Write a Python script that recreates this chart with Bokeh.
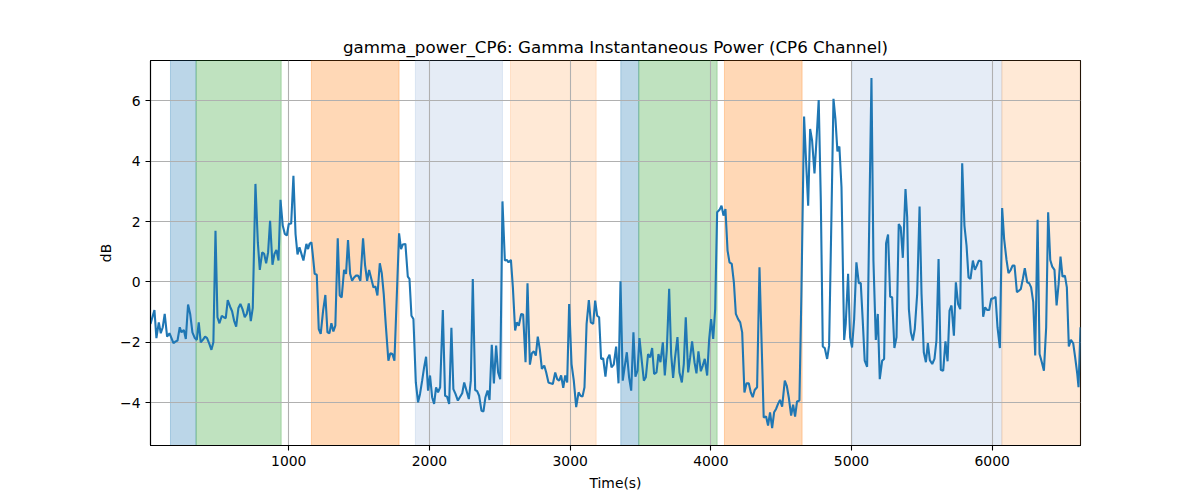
from bokeh.plotting import figure
from bokeh.models import Range1d, FixedTicker, BoxAnnotation
from bokeh.embed import file_html
from bokeh.resources import INLINE

TITLE = "gamma_power_CP6: Gamma Instantaneous Power (CP6 Channel)"
X_LABEL = "Time(s)"
Y_LABEL = "dB"

time_s = [
    17, 45, 59, 76, 90, 104, 118, 135, 152, 166, 180, 194, 209, 225, 237, 254, 268, 284, 299, 315,
    332, 346, 360, 374, 389, 405, 419, 436, 450, 464, 479, 493, 507, 524, 538, 552, 566, 583, 597, 611,
    626, 642, 656, 671, 687, 701, 716, 730, 744, 763, 780, 794, 811, 825, 839, 853, 867, 884, 898, 912,
    927, 941, 957, 972, 986, 1000, 1017, 1033, 1048, 1062, 1076, 1090, 1104,
    1125, 1137, 1147, 1161, 1170, 1184, 1199, 1213, 1227, 1244, 1260, 1275, 1289, 1303, 1317, 1331,
    1348, 1362, 1376, 1393, 1407, 1421, 1436, 1450, 1464, 1478, 1493, 1509, 1528, 1542, 1557, 1571,
    1587, 1602, 1616, 1630, 1647, 1661, 1675, 1689, 1708, 1722, 1737, 1751, 1784, 1798, 1810, 1829,
    1846, 1858, 1872, 1886, 1903, 1919, 1933, 1948, 1962, 1976, 1990, 2004, 2019, 2033, 2047, 2061,
    2076, 2095, 2111, 2125, 2140, 2156, 2170,
    2185, 2202, 2216, 2233, 2247, 2263, 2280, 2294, 2308, 2325, 2339, 2353, 2370, 2384, 2398, 2413,
    2427, 2443, 2458, 2474, 2488, 2503, 2519, 2536, 2550, 2562, 2579, 2593, 2609, 2621, 2635, 2652,
    2666, 2683, 2697, 2714, 2728, 2742, 2756, 2770, 2785, 2799, 2816, 2830, 2846, 2861, 2877, 2894,
    2908, 2922, 2936, 2951, 2965, 2979, 2993, 3010, 3026, 3043, 3060, 3074, 3088, 3102, 3117, 3133,
    3147, 3164, 3178,
    3192, 3206, 3220, 3235, 3251, 3265, 3280, 3294, 3310, 3327, 3344, 3358, 3374, 3389, 3403, 3419,
    3434, 3450, 3464, 3479, 3493, 3509, 3524, 3538, 3554, 3569, 3583, 3597, 3614, 3628, 3642, 3659,
    3673, 3687, 3704, 3718, 3732, 3746, 3763, 3777, 3794, 3808, 3822, 3839, 3853, 3867, 3884, 3898,
    3912, 3929, 3943, 3957, 3974, 3988, 4002, 4017, 4031, 4045, 4062, 4076, 4090, 4104, 4119, 4133,
    4149, 4164, 4178, 4194, 4209, 4223, 4239, 4254,
    4270, 4284, 4298, 4312, 4329, 4346, 4376, 4393, 4407, 4421, 4436, 4450, 4464, 4478, 4492, 4507,
    4526, 4540, 4554, 4571, 4585, 4599, 4613, 4630, 4644, 4663, 4677, 4692, 4706, 4720, 4737, 4751,
    4767, 4782, 4796, 4810, 4827, 4841, 4857, 4872, 4886, 4900, 4914, 4929, 4948, 4959, 4976, 4990,
    5004, 5019, 5035, 5052, 5066, 5080, 5094, 5111, 5125, 5142, 5156, 5173, 5187, 5201, 5218, 5232,
    5246, 5260, 5275, 5289, 5305, 5320, 5336, 5350, 5365,
    5384, 5396, 5408, 5422, 5436, 5450, 5467, 5484, 5498, 5514, 5529, 5543, 5557, 5574, 5590, 5604,
    5619, 5635, 5652, 5668, 5683, 5697, 5711, 5728, 5742, 5758, 5773, 5787, 5803, 5818, 5832, 5846,
    5863, 5877, 5891, 5905, 5922, 5936, 5950, 5965, 5979, 5993, 6010, 6024, 6038, 6055, 6071, 6085,
    6102, 6116, 6130, 6145, 6159, 6176, 6190, 6204, 6218, 6232, 6249, 6263, 6277, 6292, 6306, 6323,
    6337, 6353, 6368, 6384, 6398, 6413, 6427, 6443, 6458, 6472, 6486, 6500, 6517, 6531, 6545, 6560,
    6576, 6590, 6605, 6614, 6628,
]

power_db = [
    -1.39, -0.93, -1.86, -1.34, -1.70, -1.50, -1.06, -1.81, -1.70, -1.86, -2.03, -1.98, -1.94, -1.50, -1.67, -1.59, -1.89, -0.75, -1.06, -1.67,
    -1.86, -1.92, -1.34, -2.00, -1.92, -1.81, -1.86, -2.06, -2.25, -2.00, 1.70, -1.17, -1.37, -1.12, -1.17, -1.20, -0.60, -0.82, -0.97, -1.28,
    -1.48, -0.86, -0.73, -0.90, -1.17, -1.06, -0.71, -1.30, -0.86, 3.25, 1.31, 0.40, 0.98, 0.93, 0.62, 0.98, 2.03, 0.57, 0.93, 1.06,
    0.71, 2.72, 1.87, 1.59, 1.54, 1.92, 1.94, 3.52, 1.59, 0.91, 1.15, 0.93, 0.71,
    1.26, 1.09, 1.26, 1.31, 0.93, 0.27, 0.24, -1.56, -1.72, -0.95, -0.43, -1.67, -1.70, -1.37, -1.64, -1.45,
    1.45, -0.45, -0.51, 0.40, 0.27, 1.39, 0.27, 0.04, 0.15, 0.21, 0.21, 0.04, 1.45, 0.57, 0.04, 0.40,
    0.10, -0.18, -0.15, -0.45, 0.62, 0.29, -0.40, -1.39, -2.61, -2.36, -2.39, -2.61, 1.61, 1.09, 1.24, 1.26,
    0.18, 0.10, -1.12, -1.23, -3.33, -3.99, -3.71, -3.27, -2.83, -2.48, -3.60, -3.10, -3.82, -4.04, -3.49, -3.66,
    -3.49, -0.93, -3.77, -3.80, -4.04, -1.52, -3.55,
    -3.71, -3.93, -3.82, -3.69, -3.33, -3.60, -3.88, -3.27, 0.10, -3.58, -3.62, -3.77, -4.27, -4.29, -3.82, -3.60,
    -3.91, -2.08, -3.36, -2.11, -3.00, -3.22, 2.67, 0.71, 0.73, 0.65, 0.73, -0.18, -1.61, -1.34, -1.45, -1.06,
    -1.08, -2.66, -0.04, -2.74, -2.36, -2.30, -2.44, -1.81, -2.25, -2.88, -2.77, -3.00, -3.33, -3.36, -3.38, -3.00,
    -3.22, -3.27, -3.10, -3.51, -3.10, -3.33, -0.73, -2.72, -3.27, -4.15, -3.66, -3.77, -3.80, -3.49, -1.39, -0.60,
    -1.34, -1.39, -0.62,
    -1.12, -1.17, -2.55, -2.53, -3.14, -2.55, -2.41, -2.83, -2.74, -2.14, -3.36, 0.02, -3.27, -2.77, -2.33, -3.16,
    -3.60, -1.67, -3.14, -2.94, -1.86, -2.61, -3.27, -3.16, -2.39, -2.50, -2.19, -3.05, -3.00, -2.39, -2.66, -2.00,
    -3.10, -2.28, -0.23, -2.39, -3.18, -2.50, -1.83, -3.00, -3.33, -2.72, -1.17, -3.00, -2.50, -1.97, -2.66, -3.03,
    -2.30, -2.96, -2.77, -2.55, -3.10, -1.92, -1.23, -1.89, -0.90, 2.31, 2.39, 2.53, 2.20, 2.42, 1.04, 0.65,
    0.60, -0.01, -1.06, -1.23, -1.34, -1.67, -3.66, -3.36,
    -3.36, -3.66, -3.82, -3.58, -3.49, 0.49, -4.49, -4.46, -4.76, -4.32, -4.84, -4.32, -4.21, -4.04, -3.91, -4.13,
    -3.27, -3.44, -3.82, -4.43, -4.07, -4.46, -3.96, -3.93, -0.40, 5.48, 4.02, 2.53, 5.07, 4.69, 3.60, 4.69,
    6.03, 2.70, -2.14, -2.19, -2.55, -2.11, 2.03, 6.07, 5.40, 4.33, 4.49, 3.14, -1.92, -1.39, 0.27, -1.83,
    -2.17, -1.23, 0.65, -0.04, -0.04, -1.28, -2.61, -2.81, 1.59, 6.76, 0.71, -1.92, -1.06, -3.22, -2.61, -2.55,
    1.28, 1.57, -0.49, -0.51, -2.19, -1.83, 1.92, 1.81, 0.80,
    3.08, 2.14, -0.90, -1.67, -1.94, -1.56, -0.40, 2.50, -0.40, -2.33, -2.66, -2.03, -2.59, -2.72, -2.55, -1.94,
    0.76, -2.92, -2.94, -1.97, -2.63, -0.95, -0.78, -1.78, -0.01, -0.73, -0.90, 3.93, 1.87, 1.20, 0.15, 0.10,
    0.71, 0.40, 0.54, 0.71, 0.69, -1.15, -0.84, -0.93, -0.93, -0.56, -0.54, -0.49, -1.50, -2.19, 2.45, 1.43,
    0.73, 0.29, 0.38, 0.54, 0.54, -0.34, -0.29, -0.23, 0.10, 0.46, -0.01, -0.04, -0.18, -0.67, -2.44, 2.06,
    -2.39, -2.66, -2.94, -1.50, 2.31, 0.73, 0.51, 0.40, -0.78, -0.09, 0.84, 0.18, 0.21, -0.18, -2.14, -1.92,
    -2.03, -2.50, -3.05, -3.49, -1.50,
]

# shaded epochs
span_start = [159, 341, 1161, 1900, 2576, 3360, 3488, 4097, 5005, 6069]
span_end = [341, 946, 1784, 2519, 3185, 3488, 4045, 4649, 6069, 6628]
span_color = ["#1f77b4", "#2ca02c", "#ff7f0e", "#7da0d2", "#ff9132",
              "#1f77b4", "#2ca02c", "#ff7f0e", "#7da0d2", "#ff9132"]
span_alpha = [0.3, 0.3, 0.3, 0.2, 0.2, 0.3, 0.3, 0.3, 0.2, 0.2]

x_ticks = [1000, 2000, 3000, 4000, 5000, 6000]
y_ticks = [-4, -2, 0, 2, 4, 6]
y_tick_labels = ["\u22124", "\u22122", "0", "2", "4", "6"]

n = min(len(time_s), len(power_db))
time_s = time_s[:n]
power_db = power_db[:n]

ymin, ymax = min(power_db), max(power_db)
pad = 0.05 * (ymax - ymin)

FONT = "DejaVu Sans"

p = figure(
    frame_width=930, frame_height=385,
    min_border_left=150, min_border_top=60, min_border_right=110, min_border_bottom=48,
    x_range=Range1d(time_s[0], time_s[-1]),
    y_range=Range1d(ymin - pad, ymax + pad),
    output_backend="svg", toolbar_location=None,
    title=TITLE,
)
p.background_fill_color = "white"
p.border_fill_color = "white"
p.outline_line_color = "black"
p.outline_line_width = 1.1
p.outline_line_alpha = 1.0

p.title.align = "center"
p.title.text_font = FONT
p.title.text_font_size = "16.7px"
p.title.text_font_style = "normal"
p.title.text_color = "black"
p.title.standoff = 7

for s, e, c, a in zip(span_start, span_end, span_color, span_alpha):
    p.add_layout(BoxAnnotation(left=s, right=e, fill_color=c, fill_alpha=a,
                               line_color=c, line_alpha=a, line_width=1,
                               level="image"))

p.line(time_s, power_db, line_color="#1f77b4", line_width=2.1)

p.xaxis.ticker = FixedTicker(ticks=x_ticks)
p.yaxis.ticker = FixedTicker(ticks=y_ticks)
p.yaxis.major_label_overrides = {t: l for t, l in zip(y_ticks, y_tick_labels)}
p.xaxis.axis_label = X_LABEL
p.yaxis.axis_label = Y_LABEL

for ax in (p.xaxis[0], p.yaxis[0]):
    ax.axis_label_text_font = FONT
    ax.axis_label_text_font_size = "13.9px"
    ax.axis_label_text_font_style = "normal"
    ax.axis_label_text_color = "black"
    ax.major_label_text_font = FONT
    ax.major_label_text_font_size = "13.9px"
    ax.major_label_text_color = "black"
    ax.minor_tick_line_color = None
    ax.major_tick_in = 0
    ax.major_tick_out = 5
    ax.major_tick_line_color = "black"
    ax.major_tick_line_width = 1.1
    ax.axis_line_color = "black"
    ax.axis_line_width = 1.1
    ax.major_label_standoff = 5
    ax.axis_label_standoff = 6
p.yaxis[0].axis_label_standoff = 3

p.grid.grid_line_color = "#b0b0b0"
p.grid.grid_line_width = 1.1

open("out.html", "w").write(file_html(p, INLINE))
